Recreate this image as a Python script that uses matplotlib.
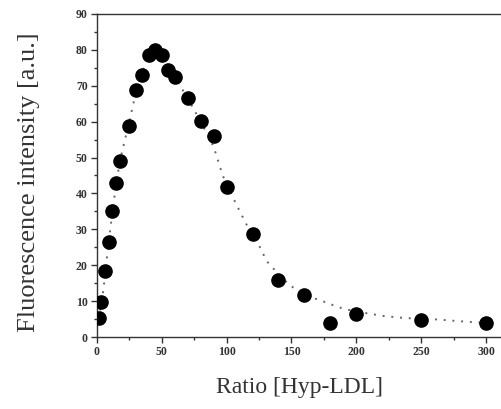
import matplotlib
matplotlib.use("Agg")
import matplotlib.pyplot as plt
from matplotlib.ticker import MultipleLocator

# Measured fluorescence vs. Hyp:LDL ratio
ratio = [2, 3, 6, 9, 12, 15, 18, 25, 30, 35, 40, 45, 50, 55, 60,
         70, 80, 90, 100, 120, 140, 160, 180, 200, 250, 300]
intensity = [5.3, 9.7, 18.3, 26.6, 35.0, 43.0, 49.0, 58.7, 68.7, 73.0,
             78.5, 79.9, 78.6, 74.3, 72.5, 66.7, 60.2, 55.9, 41.9, 28.6,
             15.9, 11.7, 4.0, 6.3, 4.7, 3.8]

# Fitted trend curve
fit_x = [1.5, 3, 5, 6.5, 8, 10, 12, 15, 18, 21, 25, 30, 35, 40, 45, 50,
         55, 60, 70, 80, 90, 97, 104, 111, 118, 125, 131, 137, 148, 155,
         162, 169, 177, 184, 191, 205, 220, 234, 250, 262, 276, 291, 300]
fit_y = [5, 9, 13, 18, 23, 29, 35, 43, 49.5, 54, 60, 68, 74, 78, 79.5,
         78.5, 76, 72.5, 66.5, 60, 53, 45, 39.5, 34.4, 29.5, 25.5, 21.1,
         18.7, 14.6, 12.9, 11.5, 10.6, 9.6, 8.6, 7.8, 6.8, 5.9, 5.4, 5.0,
         4.9, 4.5, 4.1, 3.9]

x_ticks = [0, 50, 100, 150, 200, 250, 300]
y_ticks = [0, 10, 20, 30, 40, 50, 60, 70, 80, 90]

fig = plt.figure(figsize=(5.02, 4.09), dpi=100)
ax = fig.add_axes([0.193, 0.176, 0.807, 0.790])

ax.plot(fit_x, fit_y, linestyle=(0, (1, 3.5)), lw=1.4, color="#666666",
        zorder=2)
ax.plot(ratio, intensity, "o", ms=9.5, color="black", zorder=3)

ax.set_xlim(0, 312.3)
ax.set_ylim(0, 90)
ax.set_xticks(x_ticks)
ax.set_yticks(y_ticks)
ax.xaxis.set_minor_locator(MultipleLocator(25))
ax.yaxis.set_minor_locator(MultipleLocator(5))
ax.spines["right"].set_visible(False)
for s in ax.spines.values():
    s.set_linewidth(1.0)
    s.set_color("#333333")
ax.tick_params(which="major", direction="out", length=4.5, width=1,
               color="#333333", pad=2)
ax.tick_params(which="minor", direction="out", length=2.5, width=1,
               color="#333333")
for lab in ax.get_xticklabels() + ax.get_yticklabels():
    lab.set_fontfamily("Liberation Serif")
    lab.set_fontweight("bold")
    lab.set_fontsize(8.5)
    lab.set_color("#333333")

ax.set_xlabel("Ratio [Hyp-LDL]", fontfamily="Liberation Serif",
              fontsize=17, color="#333333", labelpad=14)
ax.set_ylabel("Fluorescence intensity [a.u.]", fontfamily="Liberation Serif",
              fontsize=19, color="#333333")
ax.yaxis.set_label_coords(-0.14, 0.48)

fig.savefig("out.png", dpi=100)
